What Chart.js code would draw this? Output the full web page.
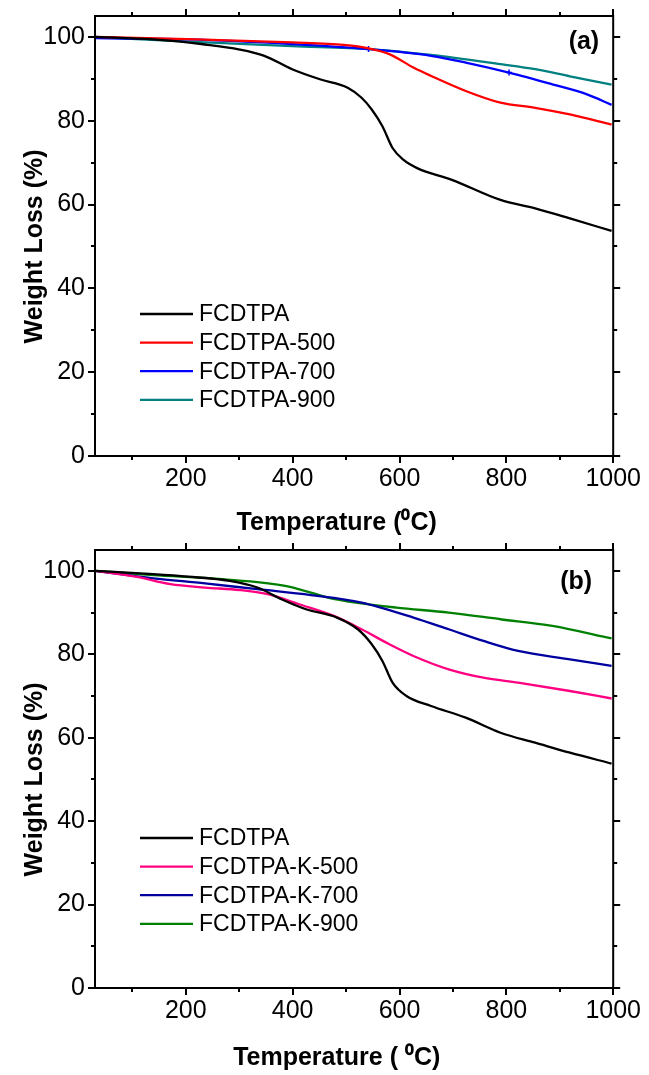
<!DOCTYPE html>
<html>
<head>
<meta charset="utf-8">
<script src="https://cdn.jsdelivr.net/npm/chart.js@4.4.1/dist/chart.umd.min.js"></script>
<style>
  html, body { margin: 0; padding: 0; background: #fff; }
  .panel { position: relative; width: 649px; }
  #wrapA { height: 540px; }
  #wrapB { height: 535px; }
</style>
</head>
<body>
<div class="panel" id="wrapA"><canvas id="chartA"></canvas></div>
<div class="panel" id="wrapB"><canvas id="chartB"></canvas></div>
<script>
const FONT = "'Liberation Sans', Arial, sans-serif";

const xTicks = [100, 200, 300, 400, 500, 600, 700, 800, 900, 1000];
const yTicks = [0, 10, 20, 30, 40, 50, 60, 70, 80, 90, 100];

// panel (a)
const fcdtpaT = [30, 139, 236, 301, 347, 399, 451, 503, 529, 548, 568, 587, 607, 633, 698, 789, 854, 919, 997];
const fcdtpaW = [100, 99.4, 98.2, 97.0, 95.5, 92.3, 89.9, 87.9, 85.5, 82.7, 78.7, 73.5, 70.7, 68.7, 65.9, 61.1, 59.1, 56.7, 53.7];
const f500T = [30, 204, 399, 496, 542, 581, 626, 659, 724, 789, 854, 919, 997];
const f500W = [100, 99.5, 98.7, 98.1, 97.3, 95.9, 92.7, 90.7, 87.1, 84.3, 83.1, 81.5, 79.1];
const f700T = [30, 204, 399, 542, 659, 724, 805, 886, 951, 997];
const f700W = [99.7, 99.4, 98.3, 97.1, 95.5, 93.9, 91.5, 88.7, 86.3, 83.8];
const f700Marks = [542, 805];
const f900T = [30, 204, 399, 542, 659, 789, 854, 919, 997];
const f900W = [100, 98.9, 97.8, 97.1, 95.7, 93.5, 92.3, 90.6, 88.6];

// panel (b)
const fcdtpaBT = [30, 139, 204, 282, 334, 379, 425, 483, 522, 548, 568, 587, 613, 659, 724, 789, 854, 919, 997];
const fcdtpaBW = [100, 99.2, 98.6, 97.6, 96.0, 93.2, 90.8, 88.8, 86.0, 82.4, 78.4, 73.2, 70.0, 67.6, 64.8, 61.2, 58.8, 56.4, 53.8];
const k500T = [30, 106, 171, 236, 301, 353, 412, 477, 529, 581, 626, 692, 757, 822, 919, 997];
const k500W = [100, 98.6, 96.8, 96.0, 95.4, 94.4, 92.0, 89.2, 86.0, 82.4, 79.6, 76.4, 74.4, 73.2, 71.2, 69.4];
const k700T = [30, 139, 236, 334, 434, 529, 626, 692, 757, 822, 919, 997];
const k700W = [100, 98.2, 97.0, 95.6, 94.2, 92.4, 88.8, 86.0, 83.2, 80.8, 78.8, 77.2];
const k900T = [30, 139, 269, 386, 434, 466, 518, 594, 692, 789, 886, 997];
const k900W = [100, 99.0, 98.0, 96.4, 94.8, 93.6, 92.4, 91.2, 90.0, 88.4, 86.8, 83.8];

// trailing no-break spaces nudge the centred axis titles like in the original
const PAD3 = "\u00a0\u00a0\u00a0";
const PAD5 = "\u00a0\u00a0\u00a0\u00a0\u00a0";

function pts(xs, ys) {
  return xs.map((x, i) => ({ x: x, y: ys[i] }));
}

function line(label, xs, ys, color, marks) {
  return {
    label: label,
    data: pts(xs, ys),
    borderColor: color,
    backgroundColor: color,
    borderWidth: 2.3,
    pointStyle: "cross",
    pointBorderWidth: 1.5,
    pointRadius: (c) => (marks && c.raw && marks.includes(c.raw.x) ? 3 : 0),
    cubicInterpolationMode: "monotone",
    fill: false,
  };
}

// frame, ticks on all four sides, panel tag and the legend inside the plot
const framePlugin = {
  id: "frame",
  afterDatasetsDraw(chart, args, opts) {
    const { ctx, chartArea: a } = chart;
    const x = chart.scales.x;
    const y = chart.scales.y;
    ctx.save();
    ctx.strokeStyle = "#000";
    ctx.lineWidth = 2;
    ctx.strokeRect(a.left, a.top, a.right - a.left, a.bottom - a.top);

    ctx.beginPath();
    x.ticks.forEach((t) => {
      const px = Math.round(x.getPixelForValue(t.value));
      const len = t.label ? 7 : 4;
      ctx.moveTo(px, a.bottom);
      ctx.lineTo(px, a.bottom + len);
      ctx.moveTo(px, a.top);
      ctx.lineTo(px, a.top - len);
    });
    y.ticks.forEach((t) => {
      const py = Math.round(y.getPixelForValue(t.value));
      const len = t.label ? 7 : 4;
      ctx.moveTo(a.left, py);
      ctx.lineTo(a.left - len, py);
      ctx.moveTo(a.right, py);
      ctx.lineTo(a.right + len, py);
    });
    ctx.stroke();

    ctx.fillStyle = "#000";
    ctx.font = "bold 25px " + FONT;
    ctx.textAlign = "right";
    ctx.textBaseline = "middle";
    ctx.fillText(opts.tag, a.right - opts.tagDx, a.top + opts.tagDy);

    ctx.font = "23px " + FONT;
    ctx.textAlign = "left";
    chart.data.datasets.forEach((ds, i) => {
      const ly = opts.legendTop + i * 28.6;
      ctx.strokeStyle = ds.borderColor;
      ctx.lineWidth = 2.3;
      ctx.beginPath();
      ctx.moveTo(a.left + 45, ly);
      ctx.lineTo(a.left + 98, ly);
      ctx.stroke();
      ctx.fillText(ds.label, a.left + 104, ly + 1);
    });
    ctx.restore();
  },
};

function makeChart(id, datasets, tag, xTitle, pad, xHeight, legendTop, tagDx, tagDy) {
  return new Chart(document.getElementById(id), {
    type: "line",
    data: { datasets: datasets },
    plugins: [framePlugin],
    options: {
      responsive: true,
      maintainAspectRatio: false,
      animation: false,
      layout: { padding: pad },
      plugins: {
        legend: { display: false },
        tooltip: { enabled: false },
        frame: { tag: tag, legendTop: legendTop, tagDx: tagDx, tagDy: tagDy },
      },
      scales: {
        x: {
          type: "linear",
          min: 30,
          max: 1000,
          afterBuildTicks: (s) => {
            s.ticks = xTicks.map((v) => ({ value: v }));
          },
          afterFit: (s) => {
            s.height = xHeight;
          },
          ticks: {
            color: "#000",
            font: { family: FONT, size: 25 },
            padding: 8,
            maxRotation: 0,
            autoSkip: false,
            callback: (v) => (v % 200 === 0 ? String(v) : ""),
          },
          grid: { display: false, drawTicks: false },
          border: { display: false },
          title: {
            display: true,
            text: xTitle + PAD5,
            color: "#000",
            font: { family: FONT, size: 25, weight: "bold" },
            padding: { top: 0, bottom: 2 },
          },
        },
        y: {
          min: 0,
          max: 105,
          afterBuildTicks: (s) => {
            s.ticks = yTicks.map((v) => ({ value: v }));
          },
          afterFit: (s) => {
            s.width = 95;
            s.paddingTop = 0;
            s.paddingBottom = 0;
          },
          ticks: {
            color: "#000",
            font: { family: FONT, size: 25 },
            padding: 10,
            autoSkip: false,
            callback: (v) => (v % 20 === 0 ? String(v) : ""),
          },
          grid: { display: false, drawTicks: false },
          border: { display: false },
          title: {
            display: true,
            text: "Weight Loss (%)" + PAD3,
            color: "#000",
            font: { family: FONT, size: 25, weight: "bold" },
            padding: { top: 20, bottom: 0 },
          },
        },
      },
    },
  });
}

makeChart(
  "chartA",
  [
    line("FCDTPA", fcdtpaT, fcdtpaW, "#000000"),
    line("FCDTPA-500", f500T, f500W, "#ff0000"),
    line("FCDTPA-700", f700T, f700W, "#0000ff", f700Marks),
    line("FCDTPA-900", f900T, f900W, "#008080"),
  ],
  "(a)",
  "Temperature (\u2070C)",
  { top: 16, right: 35, left: 0, bottom: 0 },
  84,
  314,
  14,
  26
);

makeChart(
  "chartB",
  [
    line("FCDTPA", fcdtpaBT, fcdtpaBW, "#000000"),
    line("FCDTPA-K-500", k500T, k500W, "#ff0080"),
    line("FCDTPA-K-700", k700T, k700W, "#0000a0"),
    line("FCDTPA-K-900", k900T, k900W, "#008000"),
  ],
  "(b)",
  "Temperature ( \u2070C)",
  { top: 10, right: 35, left: 0, bottom: 0 },
  87,
  298,
  21,
  32
);
</script>
</body>
</html>
